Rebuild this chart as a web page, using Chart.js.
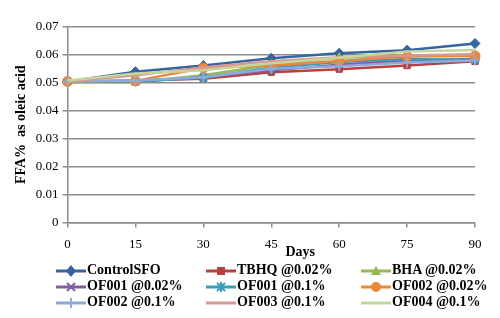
<!DOCTYPE html>
<html>
<head>
<meta charset="utf-8">
<script src="https://cdn.jsdelivr.net/npm/chart.js@4/dist/chart.umd.min.js"></script>
<style>
  body { margin: 0; background: #fff; }
  #wrap { position: relative; width: 500px; height: 318px; }
  #box { position: absolute; left: 0; top: 0; width: 500px; height: 262px; }
  #legend { position: absolute; left: 0; top: 261px; width: 500px; height: 57px;
    font: bold 14px "Liberation Serif", "Times New Roman", serif; color: #000; }
  .item { position: absolute; height: 16px; line-height: 16px; white-space: nowrap; }
  .item svg { vertical-align: middle; margin-right: 1px; }
</style>
</head>
<body>
<div id="wrap">
  <div id="box"><canvas id="chart"></canvas></div>
  <div id="legend"></div>
</div>
<script>
// Days on the x axis
const days = ['0', '15', '30', '45', '60', '75', '90'];

// FFA% values
const controlSFO = [0.0505, 0.0540, 0.0562, 0.0588, 0.0606, 0.0617, 0.0641];
const tbhq002 = [0.0505, 0.0508, 0.0515, 0.0538, 0.0549, 0.0562, 0.0577];
const bha002 = [0.0502, 0.0502, 0.0527, 0.0565, 0.0590, 0.0597, 0.0600];
const of001_002 = [0.0505, 0.0505, 0.0520, 0.0545, 0.0565, 0.0580, 0.0585];
const of001_01 = [0.0505, 0.0505, 0.0518, 0.0555, 0.0575, 0.0585, 0.0582];
const of002_002 = [0.0505, 0.0507, 0.0553, 0.0562, 0.0578, 0.0594, 0.0596];
const of002_01 = [0.0505, 0.0508, 0.0520, 0.0550, 0.0559, 0.0573, 0.0580];
const of003_01 = [0.0505, 0.0527, 0.0555, 0.0577, 0.0592, 0.0598, 0.0602];
const of004_01 = [0.0508, 0.0533, 0.0545, 0.0570, 0.0590, 0.0612, 0.0618];

const seriesNames = ['ControlSFO', 'TBHQ @0.02%', 'BHA @0.02%', 'OF001 @0.02%', 'OF001 @0.1%',
  'OF002 @0.02%', 'OF002 @0.1%', 'OF003 @0.1%', 'OF004 @0.1%'];
const seriesData = [controlSFO, tbhq002, bha002, of001_002, of001_01, of002_002, of002_01, of003_01, of004_01];
const seriesColors = ['#34659F', '#B8413F', '#98B954', '#7D5FA0', '#3A9DB8', '#E8883A', '#8FAAD8', '#D99694', '#C3D69B'];
const seriesMarkers = ['rectRot', 'rect', 'triangle', 'crossRot', 'star', 'circle', 'cross', null, null];

const serif = '"Liberation Serif", "Times New Roman", serif';

const datasets = seriesNames.map((name, i) => ({
  label: name,
  data: seriesData[i],
  borderColor: seriesColors[i],
  backgroundColor: seriesColors[i],
  borderWidth: 2.5,
  pointStyle: seriesMarkers[i] || 'circle',
  pointRadius: seriesMarkers[i] ? (seriesMarkers[i] === 'rect' ? 4.5 : 5) : 0,
  pointBorderWidth: seriesMarkers[i] && seriesMarkers[i].indexOf('cross') === 0 || seriesMarkers[i] === 'star' ? 2 : 1,
  tension: 0,
  order: seriesNames.length - i // later series drawn on top, like Excel
}));

// "Days" sits a bit right of centre in the original, between the 45 and 60 labels
const daysTitle = {
  id: 'daysTitle',
  afterDraw(chart) {
    const { ctx, chartArea } = chart;
    ctx.save();
    ctx.font = 'bold 14px ' + serif;
    ctx.fillStyle = '#000';
    ctx.textAlign = 'center';
    ctx.textBaseline = 'middle';
    ctx.fillText('Days', (chartArea.left + chartArea.right) / 2 + 29, chartArea.bottom + 30);
    ctx.restore();
  }
};

new Chart(document.getElementById('chart'), {
  type: 'line',
  data: { labels: days, datasets },
  options: {
    responsive: true,
    maintainAspectRatio: false,
    animation: false,
    layout: { padding: { top: 27, right: 25, left: 9, bottom: 1 } },
    plugins: { legend: { display: false }, tooltip: { enabled: false } },
    scales: {
      x: {
        offset: false,
        grid: { display: true, drawOnChartArea: false, drawTicks: true, tickLength: 5, color: '#8C8C8C', lineWidth: 1.5 },
        border: { color: '#8C8C8C', width: 1.5 },
        ticks: { color: '#000', font: { family: serif, size: 13 }, padding: 9, maxRotation: 0 }
      },
      y: {
        min: 0,
        max: 0.07,
        grid: { color: '#8C8C8C', lineWidth: 1.5, tickLength: 5 },
        border: { color: '#8C8C8C', width: 1.5 },
        ticks: {
          stepSize: 0.01,
          color: '#000',
          font: { family: serif, size: 13 },
          padding: 4,
          callback: v => v === 0 ? '0' : v.toFixed(2)
        },
        title: { display: true, text: 'FFA%  as oleic acid', color: '#000', font: { family: serif, size: 14, weight: 'bold' }, padding: { bottom: 2 } }
      }
    }
  },
  plugins: [daysTitle]
});

// HTML legend in three columns, like the original
function markerSvg(color, marker) {
  let m = '';
  if (marker === 'rectRot') m = `<polygon points="15,2 20,8 15,14 10,8" fill="${color}"/>`;
  if (marker === 'rect') m = `<rect x="11" y="4" width="8" height="8" fill="${color}"/>`;
  if (marker === 'triangle') m = `<polygon points="15,3 20,12 10,12" fill="${color}"/>`;
  if (marker === 'crossRot') m = `<path d="M11 4 L19 12 M19 4 L11 12" stroke="${color}" stroke-width="2"/>`;
  if (marker === 'star') m = `<path d="M11 4 L19 12 M19 4 L11 12 M15 3 L15 13" stroke="${color}" stroke-width="2"/>`;
  if (marker === 'circle') m = `<circle cx="15" cy="8" r="5" fill="${color}"/>`;
  if (marker === 'cross') m = `<path d="M15 3 L15 13" stroke="${color}" stroke-width="2"/>`;
  return `<svg width="30" height="16"><line x1="0" y1="8" x2="30" y2="8" stroke="${color}" stroke-width="3"/>${m}</svg>`;
}
const legendCols = [56, 206, 361];
const legendRows = [1, 17, 33];
const legendEl = document.getElementById('legend');
seriesNames.forEach((name, i) => {
  const div = document.createElement('div');
  div.className = 'item';
  div.style.left = legendCols[i % 3] + 'px';
  div.style.top = legendRows[Math.floor(i / 3)] + 'px';
  div.innerHTML = markerSvg(seriesColors[i], seriesMarkers[i]) + '<span>' + name + '</span>';
  legendEl.appendChild(div);
});
</script>
</body>
</html>
